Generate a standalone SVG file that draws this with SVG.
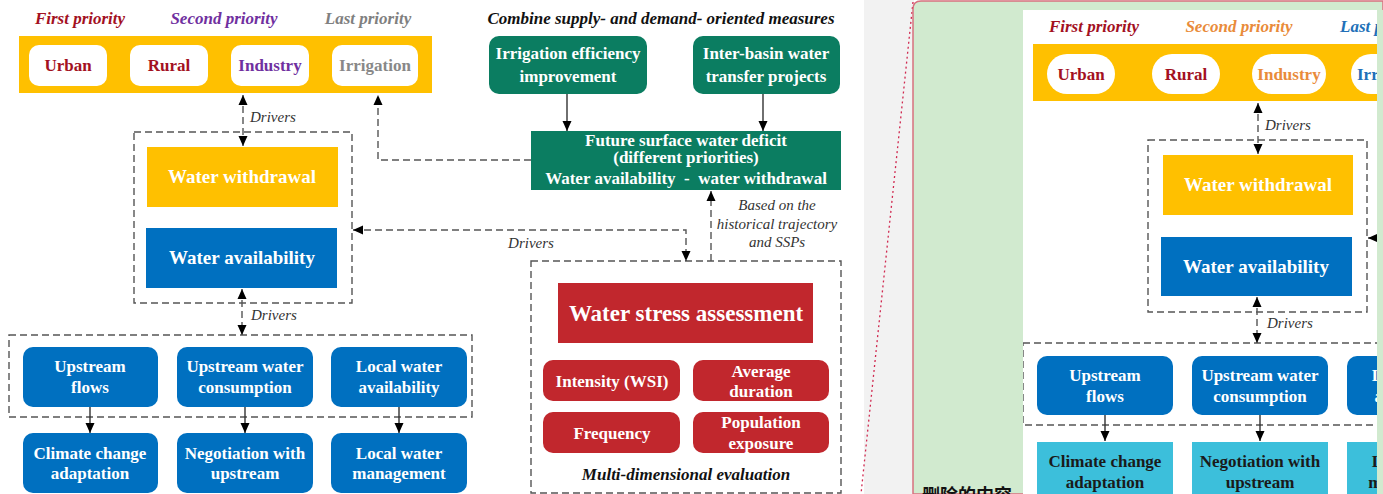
<svg xmlns="http://www.w3.org/2000/svg" width="1383" height="494" viewBox="0 0 1383 494">
<defs>
<style>
.t{font-family:"Liberation Serif","Times New Roman",serif;font-weight:bold;text-anchor:middle}
.w{fill:#fff;font-size:17px}
.hd{font-family:"Liberation Serif","Times New Roman",serif;font-weight:bold;font-style:italic;font-size:17px;text-anchor:middle}
.st{text-anchor:start}
.lbl{font-family:"Liberation Serif","Times New Roman",serif;font-style:italic;font-size:15px;fill:#333}
.mid{text-anchor:middle}
.dash{fill:none;stroke:#555;stroke-width:1.4;stroke-dasharray:7 4}
.solid{fill:none;stroke:#333;stroke-width:1.4}
.blue{fill:#0070c0}
.green{fill:#0b7d61}
.red{fill:#c1272d}
.yel{fill:#ffc000}
.cyan{fill:#3cbfdb}
.dr{fill:#a3111f}
</style>
<marker id="ah" viewBox="0 0 10 10" markerWidth="10" markerHeight="10" refX="10" refY="5" orient="auto-start-reverse" markerUnits="userSpaceOnUse">
<path d="M0,0.5 L10,5 L0,9.5 z" fill="#000"/>
</marker>
<clipPath id="clipR"><rect x="1023" y="10" width="354" height="484"/></clipPath>
</defs>
<rect x="0" y="0" width="1383" height="494" fill="#fff"/>

<!-- ===== LEFT DIAGRAM ===== -->
<g id="priority-headers">
<text class="hd dr" x="80" y="24">First priority</text>
<text class="hd" x="224" y="24" fill="#7030a0">Second priority</text>
<text class="hd" x="368" y="24" fill="#808080">Last priority</text>
</g>
<g id="sectors">
<rect class="yel" x="19" y="36" width="413" height="57"/>
<rect x="29" y="45" width="78" height="41" rx="10" fill="#fff"/>
<rect x="130" y="45" width="78" height="41" rx="10" fill="#fff"/>
<rect x="231" y="45" width="78" height="41" rx="10" fill="#fff"/>
<rect x="332" y="45" width="86" height="41" rx="10" fill="#fff"/>
<text class="t dr" x="68" y="71" font-size="17">Urban</text>
<text class="t dr" x="169" y="71" font-size="17">Rural</text>
<text class="t" x="270" y="71" font-size="17" fill="#7030a0">Industry</text>
<text class="t" x="375" y="71" font-size="17" fill="#888">Irrigation</text>
</g>
<g id="water-group">
<rect class="dash" x="134" y="132" width="218" height="171"/>
<rect class="yel" x="147" y="147" width="191" height="60"/>
<text class="t" x="242" y="183" font-size="19" fill="#fff">Water withdrawal</text>
<rect class="blue" x="146" y="228" width="191" height="60"/>
<text class="t" x="242" y="264" font-size="19" fill="#fff">Water availability</text>
</g>
<g id="drivers-group">
<rect class="dash" x="9" y="335" width="463" height="82"/>
<rect class="blue" x="23" y="347" width="135" height="60" rx="10"/>
<text class="t w" x="90" y="372">Upstream</text><text class="t w" x="90" y="393">flows</text>
<rect class="blue" x="177" y="347" width="136" height="60" rx="10"/>
<text class="t w" x="245" y="372">Upstream water</text><text class="t w" x="245" y="393">consumption</text>
<rect class="blue" x="331" y="347" width="136" height="60" rx="10"/>
<text class="t w" x="399" y="372">Local water</text><text class="t w" x="399" y="393">availability</text>
</g>
<g id="responses">
<rect class="blue" x="23" y="433" width="135" height="60" rx="10"/>
<text class="t w" x="90" y="459">Climate change</text><text class="t w" x="90" y="479">adaptation</text>
<rect class="blue" x="177" y="433" width="136" height="60" rx="10"/>
<text class="t w" x="245" y="459">Negotiation with</text><text class="t w" x="245" y="479">upstream</text>
<rect class="blue" x="331" y="433" width="136" height="60" rx="10"/>
<text class="t w" x="399" y="459">Local water</text><text class="t w" x="399" y="479">management</text>
</g>
<g id="measures">
<text class="hd" x="661" y="24" fill="#111">Combine supply- and demand- oriented measures</text>
<rect class="green" x="489" y="36" width="158" height="58" rx="10"/>
<text class="t w" x="568" y="59">Irrigation efficiency</text><text class="t w" x="568" y="82">improvement</text>
<rect class="green" x="693" y="36" width="147" height="58" rx="10"/>
<text class="t w" x="766" y="59">Inter-basin water</text><text class="t w" x="766" y="82">transfer projects</text>
</g>
<g id="deficit">
<rect class="green" x="531" y="131" width="310" height="59"/>
<text class="t w" x="686" y="146">Future surface water deficit</text>
<text class="t w" x="686" y="163">(different priorities)</text>
<text class="t w" x="686" y="184">Water availability &#160;- &#160;water withdrawal</text>
</g>
<g id="water-stress">
<rect class="dash" x="531" y="261" width="310" height="232"/>
<rect class="red" x="558" y="283" width="255" height="60"/>
<text class="t" x="686" y="321" font-size="23" fill="#fff">Water stress assessment</text>
<rect class="red" x="543" y="360" width="137" height="41" rx="10"/>
<text class="t w" x="612" y="387">Intensity (WSI)</text>
<rect class="red" x="693" y="360" width="136" height="41" rx="10"/>
<text class="t w" x="761" y="377">Average</text><text class="t w" x="761" y="397">duration</text>
<rect class="red" x="543" y="412" width="137" height="41" rx="10"/>
<text class="t w" x="612" y="439">Frequency</text>
<rect class="red" x="693" y="412" width="136" height="41" rx="10"/>
<text class="t w" x="761" y="428">Population</text><text class="t w" x="761" y="449">exposure</text>
<text class="hd" x="686" y="480" font-size="18" fill="#111">Multi-dimensional evaluation</text>
</g>
<g id="connectors">
<line class="dash" x1="243" y1="95" x2="243" y2="146" marker-start="url(#ah)" marker-end="url(#ah)"/>
<text class="lbl" x="250" y="122">Drivers</text>
<line class="dash" x1="242" y1="289" x2="242" y2="335" marker-start="url(#ah)" marker-end="url(#ah)"/>
<text class="lbl" x="251" y="320">Drivers</text>
<line class="solid" x1="90" y1="407" x2="90" y2="433" marker-end="url(#ah)"/>
<line class="solid" x1="245" y1="407" x2="245" y2="433" marker-end="url(#ah)"/>
<line class="solid" x1="399" y1="407" x2="399" y2="433" marker-end="url(#ah)"/>
<line class="solid" x1="567" y1="94" x2="567" y2="131" marker-end="url(#ah)"/>
<line class="solid" x1="763" y1="94" x2="763" y2="131" marker-end="url(#ah)"/>
<polyline class="dash" points="531,160 378,160 378,95" marker-end="url(#ah)"/>
<polyline class="dash" points="353,230 686,230 686,261" marker-start="url(#ah)" marker-end="url(#ah)"/>
<text class="lbl mid" x="531" y="248">Drivers</text>
<line class="dash" x1="711" y1="261" x2="711" y2="191" marker-end="url(#ah)"/>
<text class="lbl mid" x="777" y="210">Based on the</text>
<text class="lbl mid" x="777" y="229">historical trajectory</text>
<text class="lbl mid" x="777" y="247">and SSPs</text>
</g>

<!-- ===== RIGHT COMPARISON PANEL ===== -->
<g id="side-panel">
<rect x="864" y="0" width="50" height="494" fill="#f2f2f2"/>
<line x1="913" y1="2" x2="861" y2="494" stroke="#d0284f" stroke-width="1.3" stroke-dasharray="2 3"/>
<path d="M913,494 L913,9 Q913,1 921,1 L1383,1 L1383,494 Z" fill="#d1eacf" stroke="#d8707f" stroke-width="1.5"/>
<text x="922" y="502" font-family="'Noto Sans CJK SC',sans-serif" font-weight="bold" font-size="18" fill="#111">删除的内容</text>
</g>
<g id="copy" clip-path="url(#clipR)">
<rect x="1023" y="10" width="354" height="484" fill="#fff"/>
<g id="copy-headers">
<text class="hd dr" x="1094" y="32">First priority</text>
<text class="hd" x="1239" y="32" fill="#e98b3a">Second priority</text>
<text class="hd st" x="1340" y="32" fill="#2170b8">Last priority</text>
</g>
<g id="copy-sectors">
<rect class="yel" x="1033" y="44" width="380" height="57"/>
<rect x="1047" y="54" width="68" height="40" rx="20" fill="#fff"/>
<rect x="1152" y="54" width="68" height="40" rx="20" fill="#fff"/>
<rect x="1252" y="54" width="74" height="40" rx="20" fill="#fff"/>
<rect x="1351" y="54" width="90" height="40" rx="20" fill="#fff"/>
<text class="t dr" x="1081" y="80" font-size="17">Urban</text>
<text class="t dr" x="1186" y="80" font-size="17">Rural</text>
<text class="t" x="1289" y="80" font-size="17" fill="#e98b3a">Industry</text>
<text class="t st" x="1357" y="80" font-size="17" fill="#2170b8">Irrigation</text>
</g>
<g id="copy-water-group">
<rect class="dash" x="1148" y="140" width="219" height="172"/>
<rect class="yel" x="1163" y="155" width="190" height="60"/>
<text class="t" x="1258" y="191" font-size="19" fill="#fff">Water withdrawal</text>
<rect class="blue" x="1161" y="237" width="191" height="59"/>
<text class="t" x="1256" y="273" font-size="19" fill="#fff">Water availability</text>
</g>
<g id="copy-drivers-group">
<rect class="dash" x="1023" y="343" width="420" height="82"/>
<rect class="blue" x="1037" y="356" width="136" height="59" rx="10"/>
<text class="t w" x="1105" y="381">Upstream</text><text class="t w" x="1105" y="402">flows</text>
<rect class="blue" x="1192" y="356" width="136" height="59" rx="10"/>
<text class="t w" x="1260" y="381">Upstream water</text><text class="t w" x="1260" y="402">consumption</text>
<rect class="blue" x="1347" y="356" width="136" height="59" rx="10"/>
<text class="t w" x="1415" y="381">Local water</text><text class="t w" x="1415" y="402">availability</text>
</g>
<g id="copy-responses">
<rect class="cyan" x="1037" y="442" width="136" height="60"/>
<text class="t" x="1105" y="467" font-size="17" fill="#1a1a1a">Climate change</text><text class="t" x="1105" y="488" font-size="17" fill="#1a1a1a">adaptation</text>
<rect class="cyan" x="1192" y="442" width="136" height="60"/>
<text class="t" x="1260" y="467" font-size="17" fill="#1a1a1a">Negotiation with</text><text class="t" x="1260" y="488" font-size="17" fill="#1a1a1a">upstream</text>
<rect class="cyan" x="1347" y="442" width="136" height="60"/>
<text class="t" x="1415" y="467" font-size="17" fill="#1a1a1a">Local water</text><text class="t" x="1415" y="488" font-size="17" fill="#1a1a1a">management</text>
</g>
<g id="copy-connectors">
<line class="dash" x1="1258" y1="103" x2="1258" y2="154" marker-start="url(#ah)" marker-end="url(#ah)"/>
<text class="lbl" x="1265" y="130">Drivers</text>
<line class="dash" x1="1257" y1="297" x2="1257" y2="343" marker-start="url(#ah)" marker-end="url(#ah)"/>
<text class="lbl" x="1267" y="328">Drivers</text>
<line class="dash" x1="1368" y1="238" x2="1400" y2="238" marker-start="url(#ah)"/>
<line class="solid" x1="1105" y1="415" x2="1105" y2="441" marker-end="url(#ah)"/>
<line class="solid" x1="1260" y1="415" x2="1260" y2="441" marker-end="url(#ah)"/>
<line class="solid" x1="1415" y1="415" x2="1415" y2="441" marker-end="url(#ah)"/>
</g>
</g>
<rect x="1377" y="10" width="6" height="484" fill="#d1eacf"/>
</svg>
